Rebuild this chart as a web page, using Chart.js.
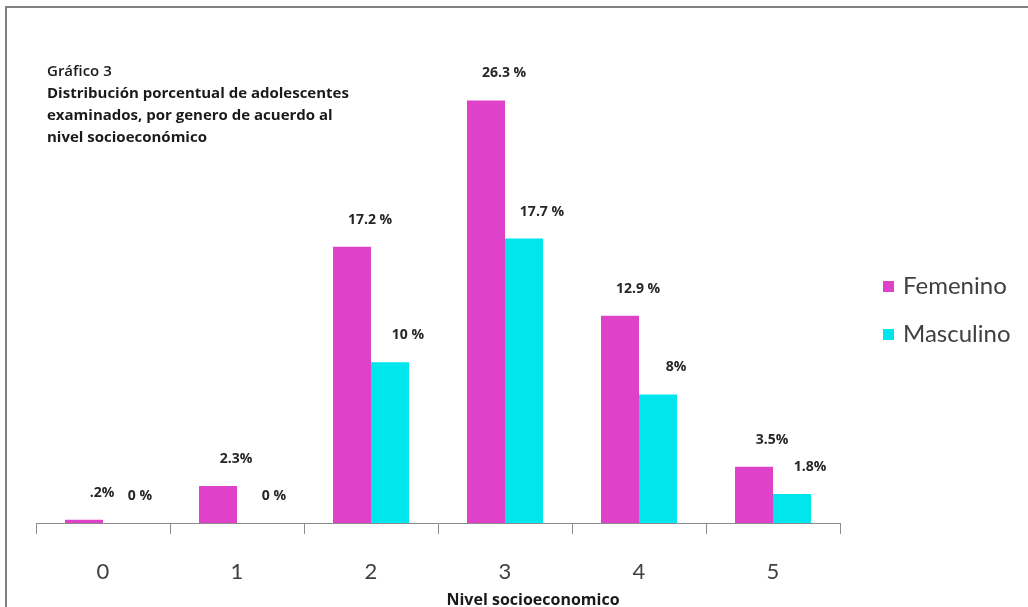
<!DOCTYPE html>
<html>
<head>
<meta charset="utf-8">
<script src="https://cdn.jsdelivr.net/npm/chart.js@4"></script>
<style>
    html, body { margin: 0; padding: 0; background: #fff; }
    #wrap { position: relative; width: 1028px; height: 607px; }
    #frame {
        position: absolute; left: 5px; top: 6px; right: 0; bottom: 0;
        border-top: 2px solid #7f7f7f; border-left: 2px solid #7f7f7f;
        pointer-events: none;
    }
</style>
</head>
<body>
<div id="wrap">
    <canvas id="canvas" width="1028" height="607"></canvas>
    <div id="frame"></div>
</div>
<script>
    'use strict';

    var niveles = ['0', '1', '2', '3', '4', '5'];
    var femenino = [0.2, 2.3, 17.2, 26.3, 12.9, 3.5];
    var masculino = [0, 0, 10, 17.7, 8, 1.8];
    var etiquetasFem = ['.2%', '2.3%', '17.2 %', '26.3 %', '12.9 %', '3.5%'];
    var etiquetasMasc = ['0 %', '0 %', '10 %', '17.7 %', '8%', '1.8%'];
    var titulo = ['Gráfico 3', 'Distribución porcentual de adolescentes',
        'examinados, por genero de acuerdo al', 'nivel socioeconómico'];
    var tituloEje = 'Nivel socioeconomico';

    var color = { fem: '#e041c9', masc: '#00e6ec' };

    // title block at top left + x axis title
    var textosPlugin = {
        id: 'textos',
        afterDraw: function (chart) {
            var ctx = chart.ctx;
            ctx.save();
            ctx.fillStyle = '#1a1a1a';
            ctx.textBaseline = 'middle';
            ctx.textAlign = 'left';
            titulo.forEach(function (linea, i) {
                ctx.font = (i === 0 ? '600 ' : 'bold ') + '15px "Open Sans"';
                ctx.fillText(linea, 47, 72 + i * 22);
            });
            ctx.textAlign = 'center';
            ctx.font = 'bold 16px "Open Sans"';
            ctx.fillText(tituloEje, 533, 600);
            ctx.restore();
        }
    };

    // percentage labels over the bars
    var etiquetasPlugin = {
        id: 'etiquetas',
        afterDatasetsDraw: function (chart) {
            var ctx = chart.ctx;
            var textos = [etiquetasFem, etiquetasMasc];
            ctx.save();
            ctx.font = 'bold 14px "Open Sans"';
            ctx.fillStyle = '#262626';
            ctx.textAlign = 'center';
            ctx.textBaseline = 'middle';
            chart.data.datasets.forEach(function (ds, d) {
                chart.getDatasetMeta(d).data.forEach(function (bar, i) {
                    ctx.fillText(textos[d][i], bar.x + 18, bar.y - 27);
                });
            });
            ctx.restore();
        }
    };

    // legend on the right
    var leyendaPlugin = {
        id: 'leyenda',
        afterDraw: function (chart) {
            var ctx = chart.ctx;
            ctx.save();
            ctx.font = '24px Lato';
            ctx.textBaseline = 'middle';
            ctx.textAlign = 'left';
            chart.data.datasets.forEach(function (ds, d) {
                var y = 286 + d * 48;
                ctx.fillStyle = ds.backgroundColor;
                ctx.fillRect(883, y - 5, 11, 11);
                ctx.fillStyle = '#404040';
                ctx.fillText(ds.label, 903, y);
            });
            ctx.restore();
        }
    };

    var ctx = document.getElementById('canvas').getContext('2d');
    window.myBar = new Chart(ctx, {
        type: 'bar',
        data: {
            labels: niveles,
            datasets: [{
                label: 'Femenino',
                backgroundColor: color.fem,
                borderWidth: 0,
                data: femenino
            }, {
                label: 'Masculino',
                backgroundColor: color.masc,
                borderWidth: 0,
                data: masculino
            }]
        },
        options: {
            responsive: false,
            animation: false,
            layout: { padding: { left: 36, right: 188, top: 41, bottom: 0 } },
            datasets: { bar: { categoryPercentage: 0.567, barPercentage: 1 } },
            plugins: { legend: { display: false }, tooltip: { enabled: false } },
            scales: {
                y: { display: false, min: 0, max: 30 },
                x: {
                    afterFit: function (scale) { scale.height = 84; },
                    border: { color: '#8c8c8c', width: 1 },
                    grid: { offset: true, drawOnChartArea: false, tickLength: 11, color: '#8c8c8c' },
                    ticks: { color: '#404040', font: { family: 'Lato', size: 22 }, padding: 25 }
                }
            }
        },
        plugins: [textosPlugin, etiquetasPlugin, leyendaPlugin]
    });
</script>
</body>
</html>
